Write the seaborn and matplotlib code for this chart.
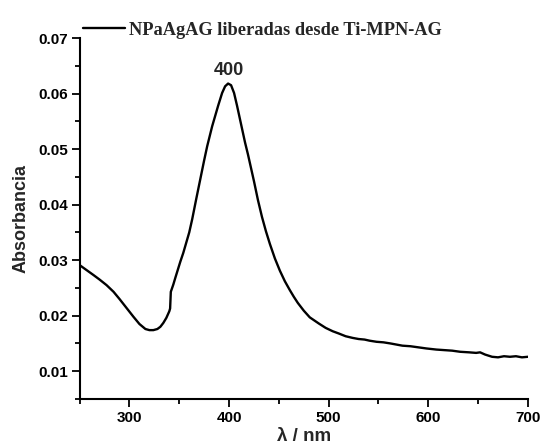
import matplotlib
matplotlib.use("Agg")
import matplotlib.pyplot as plt
from matplotlib.ticker import MultipleLocator
import seaborn as sns
import pandas as pd

# UV-Vis spectrum of silver nanoparticles released from Ti-MPN-AG
wavelength_nm = [250, 257, 264, 270, 277, 284, 290, 297, 304, 310, 316, 320, 324,
                 328, 331, 334, 337, 340, 340.8, 341.5, 344, 346, 351, 354, 360,
                 363, 367, 371, 375, 378, 383, 389, 393, 396, 399, 402, 405,
                 408, 412, 416, 419, 421, 425, 429, 433, 437, 441, 446, 451, 456,
                 461, 465, 469, 475, 481, 490, 497, 504, 510, 517, 524, 530, 536,
                 541, 548, 555, 562, 568, 574, 582, 590, 598, 608, 616, 624, 632,
                 641, 648, 652, 657, 664, 670, 676, 682, 688, 694, 700]
absorbance = [0.0291, 0.0282, 0.0273, 0.0265, 0.0255, 0.0243, 0.0230, 0.0214, 0.0198,
              0.0185, 0.0176, 0.0174, 0.0174, 0.0176, 0.0180, 0.0187, 0.0196, 0.0208,
              0.0213, 0.0243, 0.0256, 0.0268, 0.0297, 0.0313, 0.0350, 0.0374, 0.0410,
              0.0445, 0.0480, 0.0505, 0.0541, 0.0578, 0.0601, 0.0613, 0.0618, 0.0615,
              0.0601, 0.0578, 0.0545, 0.0512, 0.0490, 0.0474, 0.0442, 0.0408, 0.0378,
              0.0352, 0.0329, 0.0303, 0.0281, 0.0262, 0.0246, 0.0234, 0.0223, 0.0209,
              0.0197, 0.0186, 0.0178, 0.0172, 0.0168, 0.0163, 0.0160, 0.0158, 0.0157,
              0.0155, 0.0153, 0.0152, 0.0150, 0.0148, 0.0146, 0.0145, 0.0143, 0.0141,
              0.0139, 0.0138, 0.0137, 0.0135, 0.0134, 0.0133, 0.0134, 0.0130, 0.0126,
              0.0125, 0.0127, 0.0126, 0.0127, 0.0125, 0.0126]

series_label = "NPaAgAG liberadas desde Ti-MPN-AG"
peak_label = "400"

df = pd.DataFrame({"wavelength": wavelength_nm, "absorbance": absorbance})

sns.set_theme(style="ticks")
plt.rcParams["font.family"] = ["Liberation Sans", "DejaVu Sans"]

fig = plt.figure(figsize=(5.42, 4.45), dpi=100)
ax = fig.add_axes([0.147, 0.1034, 0.827, 0.8112])

sns.lineplot(data=df, x="wavelength", y="absorbance", ax=ax, color="black",
             linewidth=1.7, label=series_label)

ax.set_xlim(250, 700)
ax.set_ylim(0.005, 0.07)
ax.xaxis.set_minor_locator(MultipleLocator(50))
ax.yaxis.set_minor_locator(MultipleLocator(0.005))
ax.set_xticks([300, 400, 500, 600, 700])
ax.set_yticks([0.01, 0.02, 0.03, 0.04, 0.05, 0.06, 0.07])
ax.set_yticklabels(["0.01", "0.02", "0.03", "0.04", "0.05", "0.06", "0.07"])

ax.tick_params(which="major", direction="out", length=5.5, width=1.3, colors="black",
               labelsize=11, pad=3)
ax.tick_params(which="minor", direction="out", length=3.5, width=1.3, colors="black")
for lab in ax.get_xticklabels() + ax.get_yticklabels():
    lab.set_fontweight("bold")

sns.despine(ax=ax)
for side in ("left", "bottom"):
    ax.spines[side].set_linewidth(1.5)
    ax.spines[side].set_color("black")

ax.set_xlabel("λ / nm", fontsize=13.5, fontweight="bold", labelpad=2)
ax.set_ylabel("Absorbancia", fontsize=13, fontweight="bold", labelpad=6)

ax.annotate(peak_label, xy=(400, 0.0618), xytext=(0, 3), textcoords="offset points",
            ha="center", va="bottom", fontsize=13, fontweight="bold")

leg = ax.legend(loc="center left", bbox_to_anchor=(0.008, 1.022), frameon=False,
                handlelength=2.3, handletextpad=0.2, borderaxespad=0, borderpad=0,
                prop={"family": "Liberation Serif", "weight": "bold", "size": 13.2})

fig.savefig("out.png", dpi=100, facecolor="white")
